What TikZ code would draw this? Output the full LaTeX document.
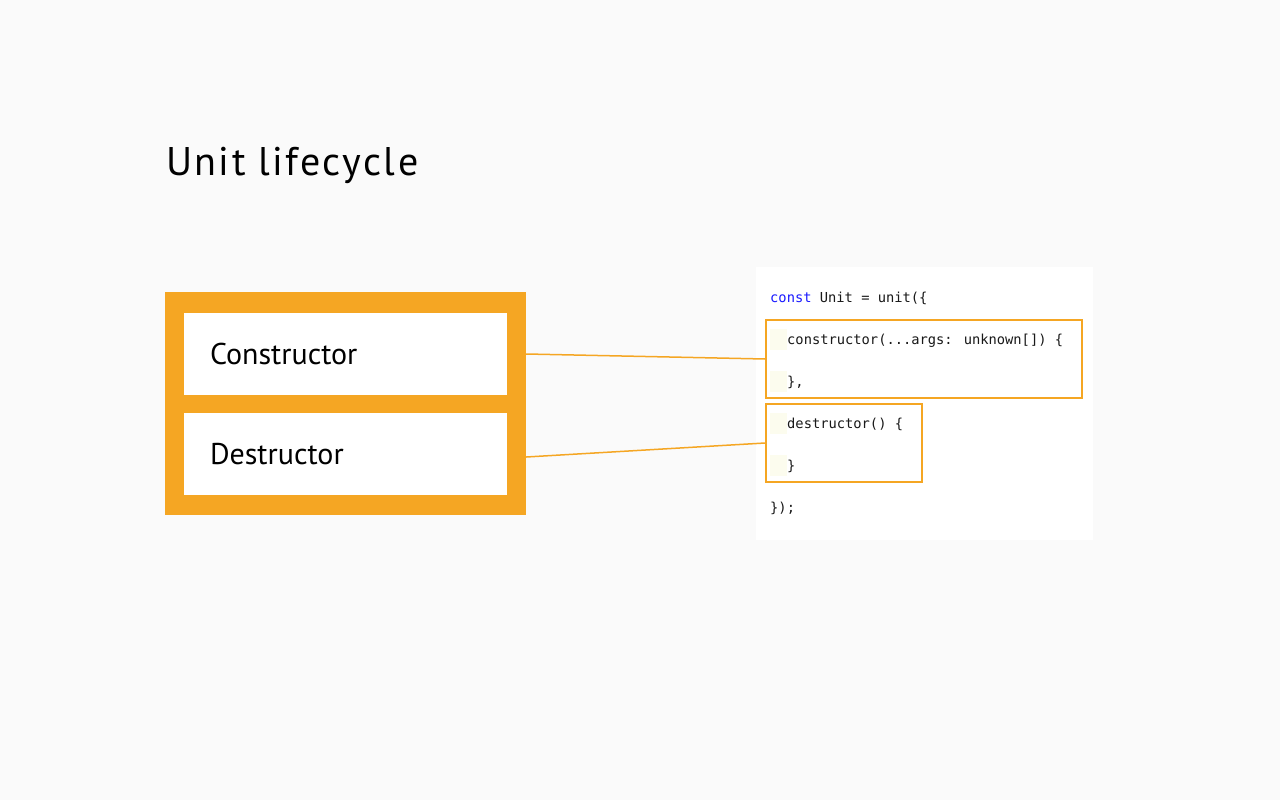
\documentclass[tikz,border=0pt]{standalone}
\usepackage{fontspec}
\setmainfont{PT Sans}
\newfontfamily\titlefont[LetterSpace=6]{PT Sans}
\newfontfamily\codefont{DejaVu Sans Mono}
\usepackage{xcolor}
\usetikzlibrary{calc}
\definecolor{pagebg}{HTML}{FAFAFA}
\definecolor{myorange}{HTML}{F5A623}
\definecolor{keyword}{HTML}{1A1AFF}
\definecolor{indentbg}{HTML}{FCFCEE}
\colorlet{codetext}{black!90}

\begin{document}
\begin{tikzpicture}[x=1pt, y=-1pt,
	stage/.style={fill=white, minimum height=82pt, text width=271pt, inner xsep=26pt, inner ysep=0pt, align=left, font=\fontsize{30}{35}\selectfont},
	codeline/.style={anchor=base west, inner sep=0pt, text=codetext, font=\codefont\fontsize{13.75}{16}\selectfont},
	hlbox/.style={draw=myorange, line width=2pt, minimum height=78pt, inner sep=0pt},
	link/.style={myorange, line width=1.5pt}]
		\fill[pagebg] (0,0) rectangle (1280,800);
		\node[anchor=base west, inner sep=0pt, font=\titlefont\fontsize{40}{48}\selectfont] (title) at (166,175) {Unit lifecycle};

		\node[fill=myorange, minimum width=361pt, minimum height=223pt, inner sep=0pt] (cycle) at (345.5,403.5) {};
		\node[stage] (ctor) at (345.5,354) {Constructor};
		\node[stage] (dtor) at (345.5,454) {Destructor};

		\node[fill=white, minimum width=337pt, minimum height=273pt, inner sep=0pt] (panel) at (924.5,403.5) {};
		\foreach \y in {344,386,428,470}
			\fill[indentbg] (770,\y-15) rectangle ++(16.5,21);
		\node[codeline] (head) at (770,302) {\textcolor{keyword}{const} Unit = unit(\{};
		\node[codeline] (ctorsig) at (787,344) {constructor(...args: unknown[]) \{};
		\node[codeline] (ctorend) at (787,386) {\},};
		\node[codeline] (dtorsig) at (787,428) {destructor() \{};
		\node[codeline] (dtorend) at (787,470) {\}};
		\node[codeline] (tail) at (770,512) {\});};

		\node[hlbox, minimum width=316pt] (ctorcode) at (924,359) {};
		\node[hlbox, minimum width=156pt] (dtorcode) at (844,443) {};

		\coordinate (dtorout) at ($(cycle.east |- dtor)+(0,3)$);
		\draw[link] (cycle.east |- ctor) -- (ctorcode.west);
		\draw[link] (dtorout) -- (dtorcode.west);
	\end{tikzpicture}
\end{document}
